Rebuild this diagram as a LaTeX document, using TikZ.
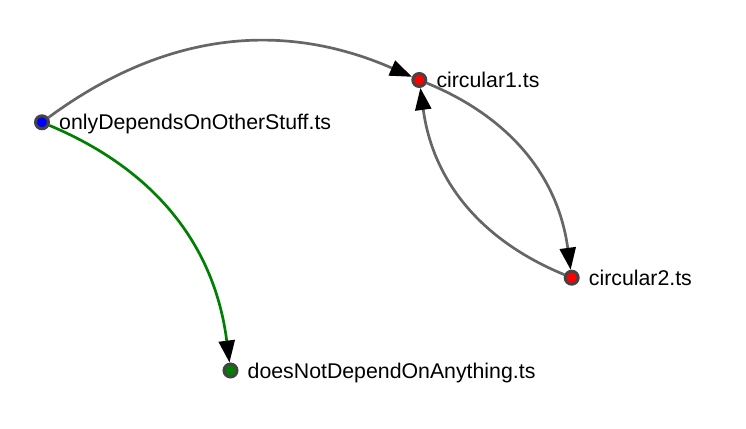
\documentclass[tikz,border=0pt]{standalone}
\usepackage{fontspec}
\setmainfont{Liberation Sans}
\usetikzlibrary{arrows.meta}
\pgfdeclarelayer{edges}
\pgfsetlayers{edges,main}
\definecolor{edgegray}{HTML}{666666}
\definecolor{nodestroke}{HTML}{444444}
\definecolor{dgreen}{HTML}{008000}
\tikzset{
  dep/.style={circle, draw=nodestroke, line width=3pt, minimum size=13pt, inner sep=0pt},
  lbl/.style={anchor=base west, inner sep=0pt, font=\fontsize{21.3pt}{24pt}\selectfont},
  link/.style={draw=edgegray, line width=2.7pt, bend left=30,
    -{Triangle[length=22pt 0 0,width=16pt 0,color=black]}},
  greenlink/.style={link, draw=dgreen}
}
\begin{document}
\begin{tikzpicture}[x=1pt,y=1pt]
\useasboundingbox (0,0) rectangle (746,428);
\node[dep, fill=blue] (A) at (42,305.7) {};
\node[dep, fill=red] (C1) at (419.3,348) {};
\node[dep, fill=red] (C2) at (571.7,150.3) {};
\node[dep, fill=dgreen] (D) at (230.5,57.5) {};
\begin{pgfonlayer}{edges}
\draw[link] (A) to (C1);
\draw[greenlink] (A) to (D);
\draw[link] (C1) to (C2);
\draw[link] (C2) to (C1);
\end{pgfonlayer}
\node[lbl] (lA) at ([xshift=17pt,yshift=-7.5pt]A.center) {onlyDependsOnOtherStuff.ts};
\node[lbl] (lC1) at ([xshift=17pt,yshift=-8pt]C1.center) {circular1.ts};
\node[lbl] (lC2) at ([xshift=17pt,yshift=-8pt]C2.center) {circular2.ts};
\node[lbl] (lD) at ([xshift=17pt,yshift=-8pt]D.center) {doesNotDependOnAnything.ts};
\end{tikzpicture}
\end{document}
